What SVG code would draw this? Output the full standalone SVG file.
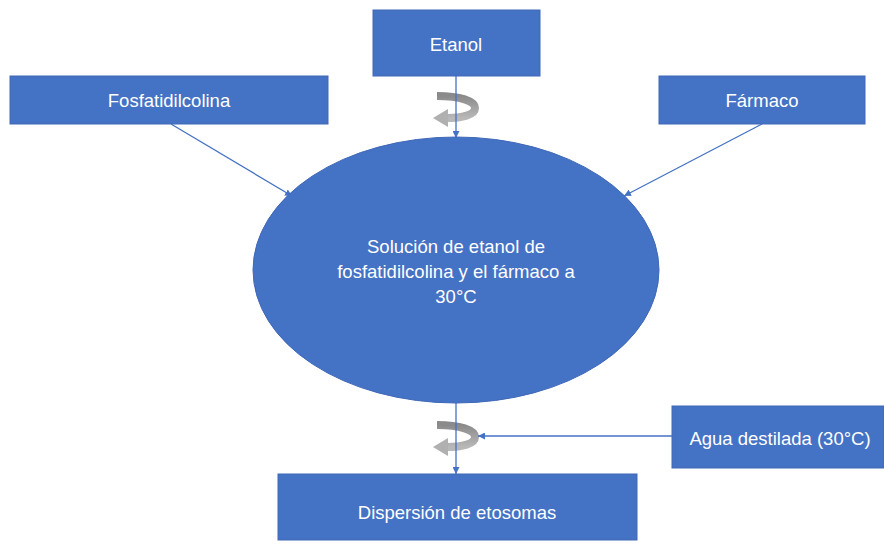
<svg xmlns="http://www.w3.org/2000/svg" width="884" height="545" viewBox="0 0 884 545">
<style>
.box{fill:#4472c4;stroke:#4068b8;stroke-width:1}
.lbl{fill:#fff;font-family:"Liberation Sans",Arial,sans-serif;font-size:18.5px;text-anchor:middle;dominant-baseline:central}
.edge{stroke:#4472c4;stroke-width:1.3;fill:none;marker-end:url(#ah)}
.curl{fill:none;stroke:url(#cg);stroke-width:8}
</style>
<defs>
<marker id="ah" viewBox="0 0 10 10" refX="10" refY="5" markerWidth="7" markerHeight="7" markerUnits="userSpaceOnUse" orient="auto"><path d="M0,0 L10,5 L0,10 z" fill="#4472c4"/></marker>
<linearGradient id="cg" x1="0" y1="0" x2="0" y2="1"><stop offset="0" stop-color="#8a8a8a"/><stop offset="1" stop-color="#b8b8b8"/></linearGradient>
<g id="curlshape">
<path class="curl" d="M437 0 C460 0 475 5 475 12 C475 19 462 22 447 22"/>
<polygon points="448,13 433,22 448,31" fill="#b0b0b0"/>
</g>
</defs>
<g id="curls">
<use href="#curlshape" transform="translate(0,96)"/>
<use href="#curlshape" transform="translate(0,425)"/>
</g>
<g id="connectors">
<line class="edge" x1="456" y1="76" x2="456" y2="138"/>
<line class="edge" x1="171" y1="124" x2="292" y2="196"/>
<line class="edge" x1="762" y1="124" x2="624" y2="196"/>
<line class="edge" x1="456" y1="403" x2="456" y2="474"/>
<line class="edge" x1="672" y1="436" x2="478" y2="436"/>
</g>
<g id="etanol"><rect class="box" x="373" y="10" width="167" height="66"/><text class="lbl" x="456" y="44">Etanol</text></g>
<g id="fosfatidilcolina"><rect class="box" x="10" y="76" width="318" height="48"/><text class="lbl" x="169" y="100">Fosfatidilcolina</text></g>
<g id="farmaco"><rect class="box" x="659" y="76" width="206" height="48"/><text class="lbl" x="762" y="100">Fármaco</text></g>
<g id="solucion"><ellipse class="box" cx="456" cy="270" rx="203" ry="133"/>
<text class="lbl" x="456" y="246">Solución de etanol de</text>
<text class="lbl" x="456" y="271">fosfatidilcolina y el fármaco a</text>
<text class="lbl" x="456" y="296">30°C</text></g>
<g id="agua"><rect class="box" x="672" y="406" width="212" height="62"/><text class="lbl" x="780" y="438">Agua destilada (30°C)</text></g>
<g id="dispersion"><rect class="box" x="278" y="474" width="359" height="66"/><text class="lbl" x="457" y="512">Dispersión de etosomas</text></g>
</svg>
